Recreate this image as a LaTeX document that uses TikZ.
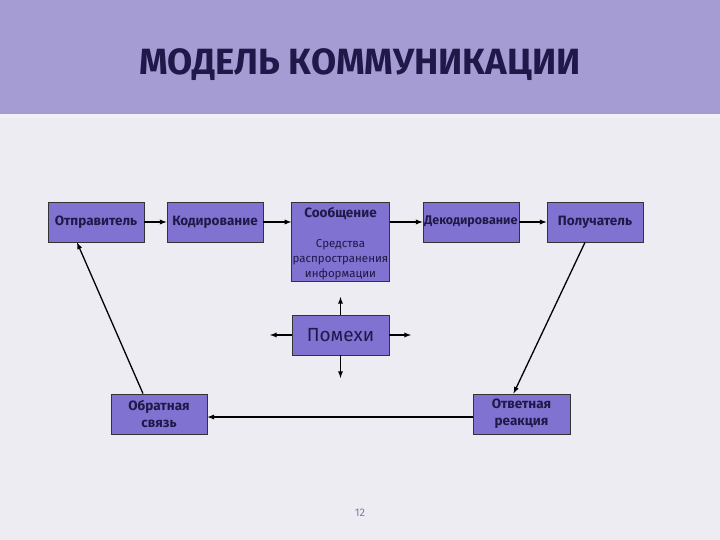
\documentclass[tikz,border=0pt]{standalone}
\usepackage{fontspec}
\setmainfont{Fira Sans}
\usepackage{xcolor}
\usepackage{tikz}
\usetikzlibrary{positioning}

\definecolor{fonsvet}{HTML}{EDECF3}
\definecolor{shapka}{HTML}{A49CD2}
\definecolor{blok}{HTML}{8072D0}
\definecolor{chernila}{HTML}{201848}
\definecolor{nomer}{HTML}{7080A8}

\newcommand{\melkij}{\mdseries\fontsize{11.5}{13}\selectfont}

\tikzset{
    blokk/.style={draw=black!80, fill=blok, line width=0.8pt, minimum width=96pt,
        minimum height=40pt, inner sep=1pt, text=chernila, font=\fontsize{13.5}{15}\selectfont\bfseries},
    strelka/.style={->, >=latex, line width=1.3pt}
}

\begin{document}
\begin{tikzpicture}[x=1pt, y=-1pt]
    % Фон и шапка
    \useasboundingbox (0,0) rectangle (720,540);
    \fill[fonsvet] (0,0) rectangle (720,540);
    \fill[shapka] (0,0) rectangle (720,114);
    \fill[white!85!shapka] (0,114) rectangle (720,118);
    \node[text=chernila, font=\fontsize{36.5}{40}\selectfont\bfseries] (zagolovok) at (360,65) {МОДЕЛЬ КОММУНИКАЦИИ};
    
    % Верхний ряд
    \node[blokk] (otpr) at (96,222) {Отправитель};
    \node[blokk] (kod) at (215,222) {Кодирование};
    \node[blokk, minimum width=97pt, minimum height=79pt, inner ysep=0pt, align=center] (soob) at (340.5,241.5)
        {\rule{0pt}{15pt}Сообщение\\[15pt]\melkij Средства\\\melkij распространения\\\melkij информации};
    \node[blokk, font=\fontsize{12.5}{15}\selectfont\bfseries] (dekod) at (471,222) {Декодирование};
    \node[blokk] (poluch) at (595,222) {Получатель};
    
    % Помехи
    \node[blokk, minimum width=97pt, font=\fontsize{19}{22}\selectfont] (pomehi) at (340.5,335) {Помехи};
    \coordinate (pv) at (340.5,297);
    \coordinate (pn) at (340.5,378);
    \coordinate (pl) at (270,335);
    \coordinate (pp) at (411,335);
    
    % Нижний ряд
    \node[blokk, align=center, font=\fontsize{13.5}{17}\selectfont\bfseries] (obr) at (159,414) {Обратная\\связь};
    \node[blokk, minimum width=97pt, align=center, font=\fontsize{13.5}{17}\selectfont\bfseries] (otv) at (521.5,414) {Ответная\\реакция};
    
    \node[text=nomer, font=\fontsize{11}{12}\selectfont] (str) at (360,513) {12};
    
    % Связи
    \draw[strelka] (otpr) -- (kod);
    \draw[strelka] (kod.east) -- (soob.west |- kod.east);
    \draw[strelka] (soob.east |- dekod.west) -- (dekod.west);
    \draw[strelka] (dekod) -- (poluch);
    \draw[strelka] ([xshift=-10pt]poluch.south) -- ([xshift=-8pt]otv.north);
    \draw[strelka] (otv.west |- 0,417) -- (obr.east |- 0,417);
    \draw[strelka] ([xshift=-16pt]obr.north) -- ([xshift=-19pt]otpr.south);
    \foreach \k/\s in {pv/north, pn/south, pl/west, pp/east}
        \draw[strelka] (pomehi.\s) -- (\k);
\end{tikzpicture}
\end{document}
